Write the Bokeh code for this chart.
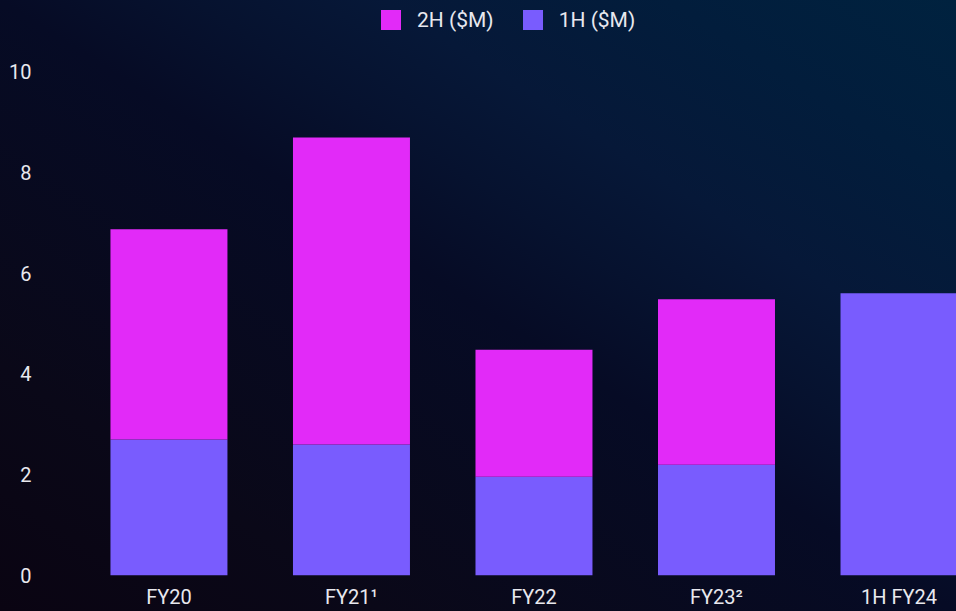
from bokeh.plotting import figure
from bokeh.models import ColumnDataSource, FixedTicker, Range1d, Legend, LegendItem
from bokeh.embed import file_html
from bokeh.resources import INLINE

categories = ["FY20", "FY21\u00b9", "FY22", "FY23\u00b2", "1H FY24"]
first_half = [2.70, 2.60, 1.96, 2.20, 5.60]
second_half = [4.17, 6.09, 2.52, 3.28, 0.0]
y_ticks = [0, 2, 4, 6, 8, 10]

COL_2H = "#e22af8"
COL_1H = "#795cfe"
TXT = "#e8e8ee"
FONT = "Roboto"

xs = list(range(len(categories)))
src = ColumnDataSource(dict(x=xs, h1=first_half, h2=second_half))

p = figure(width=956, height=611, output_backend="svg", toolbar_location=None,
           x_range=Range1d(-0.649, 4.315), y_range=Range1d(0, 11.41),
           min_border_left=50, min_border_right=0, min_border_top=0, min_border_bottom=36)

p.background_fill_alpha = 0
p.border_fill_alpha = 0
p.outline_line_color = None
p.xgrid.grid_line_color = None
p.ygrid.grid_line_color = None

rs = p.vbar_stack(["h1", "h2"], x="x", width=0.641, color=[COL_1H, COL_2H],
                  line_color=None, source=src)

legend = Legend(items=[LegendItem(label="2H ($M)", renderers=[rs[1]]),
                       LegendItem(label="1H ($M)", renderers=[rs[0]])],
                orientation="horizontal", location=(328, 543),
                background_fill_alpha=0, border_line_color=None,
                glyph_width=25, glyph_height=25, label_standoff=14, spacing=26,
                padding=0, margin=0,
                label_text_font=FONT, label_text_font_size="21px", label_text_color=TXT)
p.add_layout(legend)

for ax in (p.xaxis[0], p.yaxis[0]):
    ax.axis_line_color = None
    ax.major_tick_line_color = None
    ax.minor_tick_line_color = None
    ax.major_label_text_font = FONT
    ax.major_label_text_font_size = "20px"
    ax.major_label_text_color = TXT

p.xaxis.ticker = FixedTicker(ticks=xs)
p.xaxis.major_label_overrides = {i: c for i, c in enumerate(categories)}
p.xaxis.major_label_standoff = 3
p.yaxis.ticker = FixedTicker(ticks=y_ticks)
p.yaxis.major_label_standoff = 13

html = file_html(p, INLINE)
css = ("<style>html,body{margin:0;padding:0;height:100%;overflow:hidden;"
       "background:linear-gradient(to top right,#0a0412 0%,#0a0818 20%,#060b25 50%,"
       "#06122f 60%,#061838 70%,#021d3c 85%,#00223f 100%);}</style></head>")
html = html.replace("</head>", css, 1)
open("out.html", "w").write(html)
